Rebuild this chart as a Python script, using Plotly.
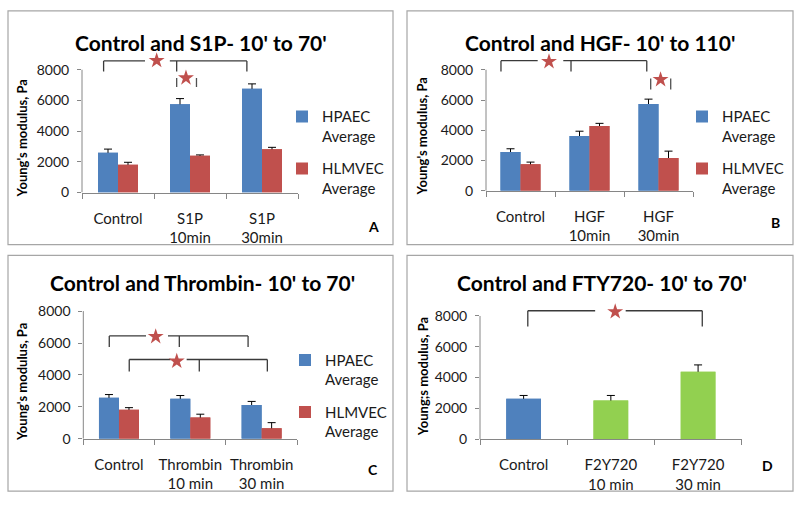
import plotly.graph_objects as go

W, H = 800, 506
FONT = "Lato, 'Open Sans', sans-serif"

# ---------------- data ----------------
y_ticks = [0, 2000, 4000, 6000, 8000]

cats_A = ["Control", "S1P<br>10min", "S1P<br>30min"]
hpaec_A = [2600, 5760, 6760]
hpaec_err_A = [230, 360, 320]
hlmvec_A = [1810, 2390, 2815]
hlmvec_err_A = [160, 60, 130]

cats_B = ["Control", "HGF<br>10min", "HGF<br>30min"]
hpaec_B = [2560, 3630, 5730]
hpaec_err_B = [220, 310, 330]
hlmvec_B = [1750, 4290, 2165]
hlmvec_err_B = [150, 170, 460]

cats_C = ["Control", "Thrombin<br>10 min", "Thrombin<br>30 min"]
hpaec_C = [2565, 2500, 2115]
hpaec_err_C = [205, 210, 225]
hlmvec_C = [1825, 1335, 660]
hlmvec_err_C = [125, 205, 350]

cats_D = ["Control", "F2Y720<br>10 min", "F2Y720<br>30 min"]
fty_D = [2620, 2515, 4370]
fty_err_D = [215, 320, 450]

titles = ["Control and S1P- 10' to 70'", "Control and HGF- 10' to 110'",
          "Control and Thrombin- 10' to 70'", "Control and FTY720- 10' to 70'"]
ytitles = ["Young's modulus, Pa", "Young's modulus, Pa", "Young's modulus, Pa", "Young;s modulus, Pa"]
letters = ["A", "B", "C", "D"]
series_names = ["HPAEC<br>Average", "HLMVEC<br>Average"]

# significance brackets (category units / Pa)
brackets_A = [dict(drops=[-0.20, 0.815, 1.79], y=8576, foot=7890, gap=(0.375, 0.72))]
pairs_A = [dict(drops=[0.815, 1.09], top=7470, foot=6720)]
stars_A = ([0.537, 0.944], [8600, 7470])

brackets_B = [dict(drops=[-0.283, 0.732, 1.83], y=8600, foot=7890, gap=(0.249, 0.62))]
pairs_B = [dict(drops=[1.887, 2.177], top=7420, foot=6700)]
stars_B = ([0.413, 2.03], [8540, 7350])

brackets_C = [dict(drops=[-0.136, 0.846, 1.81], y=6443, foot=5750, gap=(0.379, 0.687)),
              dict(drops=[0.144, 1.126, 2.08], y=4966, foot=4210, gap=(0.725, 0.949))]
pairs_C = []
stars_C = ([0.515, 0.81], [6400, 4860])

brackets_D = [dict(drops=[0.048, 2.048], y=8340, foot=7315, gap=(0.82, 1.17))]
pairs_D = []
stars_D = ([1.05], [8275])

# ---------------- colours / geometry ----------------
BLUE, RED, GREEN = "#4f81bd", "#c0504d", "#92d050"
AXIS = "#868686"

# pixel geometry of each panel's plot area
geo = {
    "A": dict(x0=82, x1=298, yzero=195, y8000=70, ytop=52, bw=20),
    "B": dict(x0=486, x1=693, yzero=193.3, y8000=70, ytop=52, bw=20),
    "C": dict(x0=83.3, x1=297.3, yzero=445.7, y8000=315.7, ytop=308, bw=20),
    "D": dict(x0=480, x1=741.7, yzero=446, y8000=320.7, ytop=305, bw=34.7),
}
boxes = {"A": (8, 10, 393, 248), "B": (407, 10, 793, 248),
         "C": (8, 259, 393, 499), "D": (407, 259, 793, 499)}
title_pos = {"A": (201, 42), "B": (600, 42), "C": (202, 287), "D": (602, 287)}
ytitle_pos = {"A": (22, 140), "B": (422, 138), "C": (22, 388), "D": (423, 383)}
letter_pos = {"A": (373, 230), "B": (775, 226), "C": (373, 477), "D": (767, 473)}
legend_pos = {"A": (282, 101), "B": (682, 101), "C": (285, 349)}

fig = go.Figure()
shapes, annotations = [], []
layout_axes = {}

panels = [
    ("A", cats_A, [(hpaec_A, hpaec_err_A), (hlmvec_A, hlmvec_err_A)], brackets_A, pairs_A, stars_A),
    ("B", cats_B, [(hpaec_B, hpaec_err_B), (hlmvec_B, hlmvec_err_B)], brackets_B, pairs_B, stars_B),
    ("C", cats_C, [(hpaec_C, hpaec_err_C), (hlmvec_C, hlmvec_err_C)], brackets_C, pairs_C, stars_C),
    ("D", cats_D, [(fty_D, fty_err_D)], brackets_D, pairs_D, stars_D),
]

for i, (key, cats, series, brackets, pairs, stars) in enumerate(panels):
    n = "" if i == 0 else str(i + 1)
    xa, ya = "x" + n, "y" + n
    g = geo[key]
    ymax = 8000 * (g["yzero"] - g["ytop"]) / (g["yzero"] - g["y8000"])
    spacing = (g["x1"] - g["x0"]) / 3
    w = g["bw"] / spacing
    xs = [0, 1, 2]

    if key == "D":
        vals, err = series[0]
        cols = [BLUE, GREEN, GREEN]
        # error bars first (lower half hidden by the bars drawn on top)
        fig.add_trace(go.Bar(x=xs, y=vals, width=w, offset=-w / 2,
                             marker=dict(color=cols, line=dict(width=0)),
                             error_y=dict(type="data", array=err, symmetric=True,
                                          color="black", thickness=1, width=4),
                             xaxis=xa, yaxis=ya, showlegend=False, hoverinfo="skip"))
        fig.add_trace(go.Bar(x=xs, y=vals, width=w, offset=-w / 2,
                             marker=dict(color=cols, line=dict(width=0)),
                             xaxis=xa, yaxis=ya, showlegend=False, hoverinfo="skip"))
    else:
        leg = "legend" if i == 0 else "legend" + str(i + 1)
        for j, ((vals, err), col) in enumerate(zip(series, [BLUE, RED])):
            fig.add_trace(go.Bar(x=xs, y=vals, width=w, offset=-w if j == 0 else 0,
                                 marker=dict(color=col, line=dict(width=0)),
                                 error_y=dict(type="data", array=err, symmetric=True,
                                              color="black", thickness=1, width=4),
                                 xaxis=xa, yaxis=ya, showlegend=False, hoverinfo="skip"))
        for j, ((vals, err), col) in enumerate(zip(series, [BLUE, RED])):
            fig.add_trace(go.Bar(x=xs, y=vals, width=w, offset=-w if j == 0 else 0,
                                 name=series_names[j], legend=leg, legendgroup=key + str(j),
                                 marker=dict(color=col, line=dict(width=0)),
                                 xaxis=xa, yaxis=ya, hoverinfo="skip"))

    # brackets
    bx, by = [], []
    for b in brackets:
        d = b["drops"]
        bx += [min(d), b["gap"][0], None, b["gap"][1], max(d), None]
        by += [b["y"], b["y"], None, b["y"], b["y"], None]
        for xd in d:
            bx += [xd, xd, None]
            by += [b["y"], b["foot"], None]
    if bx:
        fig.add_trace(go.Scatter(x=bx, y=by, mode="lines", line=dict(color="#3a3a3a", width=1.3),
                                 xaxis=xa, yaxis=ya, showlegend=False, hoverinfo="skip"))
    px, py = [], []
    for p in pairs:
        for xd in p["drops"]:
            px += [xd, xd, None]
            py += [p["top"], p["foot"], None]
    if px:
        fig.add_trace(go.Scatter(x=px, y=py, mode="lines",
                                 line=dict(color="#505050", width=1.3, dash="dash" if key == "A" else "solid"),
                                 xaxis=xa, yaxis=ya, showlegend=False, hoverinfo="skip"))
    fig.add_trace(go.Scatter(x=stars[0], y=stars[1], mode="markers",
                             marker=dict(symbol="star", size=12, color=RED, line=dict(width=0)),
                             cliponaxis=False, xaxis=xa, yaxis=ya, showlegend=False, hoverinfo="skip"))

    xname = "xaxis" + n
    yname = "yaxis" + n
    layout_axes[xname] = dict(
        domain=[g["x0"] / W, g["x1"] / W], range=[-0.5, 2.5], anchor=ya,
        tickmode="array", tickvals=xs, ticktext=cats,
        ticks="outside", ticklen=12, tickcolor="rgba(0,0,0,0)",
        minor=dict(tickmode="array", tickvals=[-0.5, 0.5, 1.5, 2.5], ticks="outside",
                   ticklen=5, tickcolor=AXIS, tickwidth=1),
        showline=True, linecolor=AXIS, linewidth=1, showgrid=False, zeroline=False,
        tickfont=dict(family=FONT, size=15, color="#1a1a1a"), fixedrange=True)
    layout_axes[yname] = dict(
        domain=[1 - g["yzero"] / H, 1 - g["ytop"] / H], range=[0, ymax], anchor=xa,
        tickmode="array", tickvals=y_ticks, ticks="outside", ticklen=4, tickcolor=AXIS,
        showline=False, showgrid=False, zeroline=False, ticklabelstandoff=5,
        tickfont=dict(family=FONT, size=14, color="#1a1a1a"), fixedrange=True)

    # y axis line from 0 to 8000
    shapes.append(dict(type="line", xref=xa + " domain", yref=ya, x0=0, x1=0,
                       y0=0, y1=8000, line=dict(color=AXIS, width=1)))
    # panel border
    bx0, by0, bx1, by1 = boxes[key]
    shapes.append(dict(type="rect", xref="paper", yref="paper", x0=bx0 / W, x1=bx1 / W,
                       y0=1 - by1 / H, y1=1 - by0 / H, line=dict(color="#a6a6a6", width=1.2)))
    tx, ty = title_pos[key]
    annotations.append(dict(text="<b>" + titles[i] + "</b>", x=tx / W, y=1 - ty / H,
                            xref="paper", yref="paper", xanchor="center", yanchor="middle",
                            showarrow=False, font=dict(family=FONT, size=21, color="black")))
    yx, yy = ytitle_pos[key]
    annotations.append(dict(text="<b>" + ytitles[i] + "</b>", x=yx / W, y=1 - yy / H,
                            xref="paper", yref="paper", xanchor="center", yanchor="middle",
                            textangle=-90, showarrow=False,
                            font=dict(family=FONT, size=13, color="black")))
    lx, ly = letter_pos[key]
    annotations.append(dict(text="<b>" + letters[i] + "</b>", x=lx / W, y=1 - ly / H,
                            xref="paper", yref="paper", xanchor="center", yanchor="middle",
                            showarrow=False, font=dict(family=FONT, size=14, color="black")))

legends = {}
for i, key in enumerate(["A", "B", "C"]):
    name = "legend" if i == 0 else "legend" + str(i + 1)
    lx, ly = legend_pos[key]
    legends[name] = dict(x=lx / W, y=1 - ly / H, xanchor="left", yanchor="top",
                         font=dict(family=FONT, size=15, color="#1a1a1a"),
                         bgcolor="rgba(0,0,0,0)", tracegroupgap=10, valign="top",
                         itemclick=False, itemdoubleclick=False)

fig.update_layout(
    width=W, height=H, margin=dict(l=0, r=0, t=0, b=0),
    paper_bgcolor="white", plot_bgcolor="white",
    barmode="overlay", shapes=shapes, annotations=annotations,
    font=dict(family=FONT), **layout_axes, **legends,
)

fig.write_html("out.html", config={"displayModeBar": False, "staticPlot": True},
               post_script="document.body.style.margin='0';")
